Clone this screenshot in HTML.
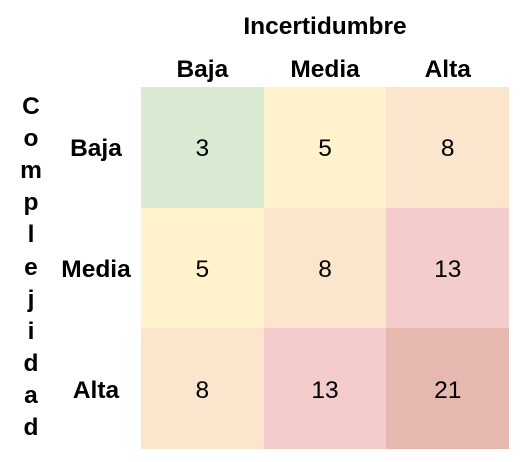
<!DOCTYPE html>
<html><head><meta charset="utf-8"><style>
body{margin:0;width:520px;height:462px;background:#fff;font-family:"Liberation Sans",sans-serif;position:relative;overflow:hidden}
.t{position:absolute;font-weight:bold;font-size:24.5px;color:#000;text-align:center;line-height:1}
.c{position:absolute;display:flex;align-items:center;justify-content:center;font-size:24.5px;color:#000;padding-top:4px;box-sizing:border-box}
</style></head><body>
<div class="t" style="left:141px;width:368px;top:15px">Incertidumbre</div>
<div id="v"></div>
<div id="g"></div>
<script>
const cats=["Baja","Media","Alta"];
const vals=[[3,5,8],[5,8,13],[8,13,21]];
const colorFor={3:"#d9ead3",5:"#fff2cc",8:"#fce5cd",13:"#f4cccc",21:"#e6b8af"};
const X0=141,Y0=87,CW=122.7,CH=120.7;
const g=document.getElementById('g');
cats.forEach((c,i)=>{
 const d=document.createElement('div');d.className='t';
 
 
 d.style.left=(X0+i*CW)+'px';d.style.width=CW+'px';d.style.top='58px';d.textContent=c;g.appendChild(d);
 const r=document.createElement('div');r.className='t';
 
 
 r.style.left='46px';r.style.width='100px';r.style.top=(Y0+i*CH+CH/2-10)+'px';r.textContent=c;g.appendChild(r);
});
vals.forEach((row,r)=>row.forEach((v,c)=>{
 const d=document.createElement('div');d.className='c';
 
 
 d.style.left=(X0+c*CW)+'px';d.style.top=(Y0+r*CH)+'px';d.style.width=CW+'px';d.style.height=CH+'px';
 d.style.background=colorFor[v]||'#eee';d.textContent=v;g.appendChild(d);
}));
const word="Complejidad",v=document.getElementById('v');
[...word].forEach((ch,i)=>{
 const d=document.createElement('div');d.className='t';
 
 
 d.style.left='18px';d.style.width='26px';d.style.top=(95+i*32.1)+'px';d.textContent=ch;v.appendChild(d);
});
</script>
</body></html>
